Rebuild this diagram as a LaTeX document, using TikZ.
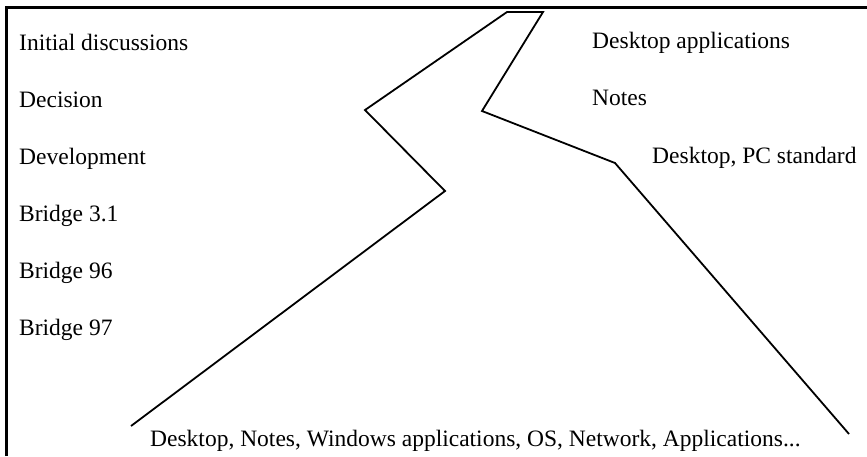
\documentclass[tikz,border=0pt]{standalone}
\usepackage{fontspec}
\setmainfont{Liberation Serif}
\begin{document}
\begin{tikzpicture}[x=1pt,y=-1pt,
  lbl/.style={anchor=base west,inner sep=0pt,font=\fontsize{23.5}{28}\selectfont},
  frameline/.style={line width=3pt},
  zig/.style={line width=1.8pt,line join=miter}]
\useasboundingbox (0,0) rectangle (867,456);
\draw[frameline] (6.5,456) -- (6.5,7) -- (867,7);
% left labels
\node[lbl] (t1) at (19,50) {Initial discussions};
\node[lbl] (t2) at (19,107) {Decision};
\node[lbl] (t3) at (19,164) {Development};
\node[lbl] (t4) at (19,221) {Bridge 3.1};
\node[lbl] (t5) at (19,278) {Bridge 96};
\node[lbl] (t6) at (19,335) {Bridge 97};
% right labels
\node[lbl] (r1) at (592,48) {Desktop applications};
\node[lbl] (r2) at (592,105) {Notes};
\node[lbl] (r3) at (652,163) {Desktop, PC standard};
% bottom label
\node[lbl] (b1) at (150,446) {Desktop, Notes, Windows applications, OS, Network, Applications...};
% zigzag
\coordinate (p1) at (131,426);
\coordinate (p2) at (445,191);
\coordinate (p3) at (365,110);
\coordinate (p4) at (507,12);
\coordinate (p5) at (543,12);
\coordinate (p6) at (482,111);
\coordinate (p7) at (615,163);
\coordinate (p8) at (849,434);
\draw[zig] (p1) -- (p2) -- (p3) -- (p4) -- (p5) -- (p6) -- (p7) -- (p8);
\end{tikzpicture}
\end{document}
